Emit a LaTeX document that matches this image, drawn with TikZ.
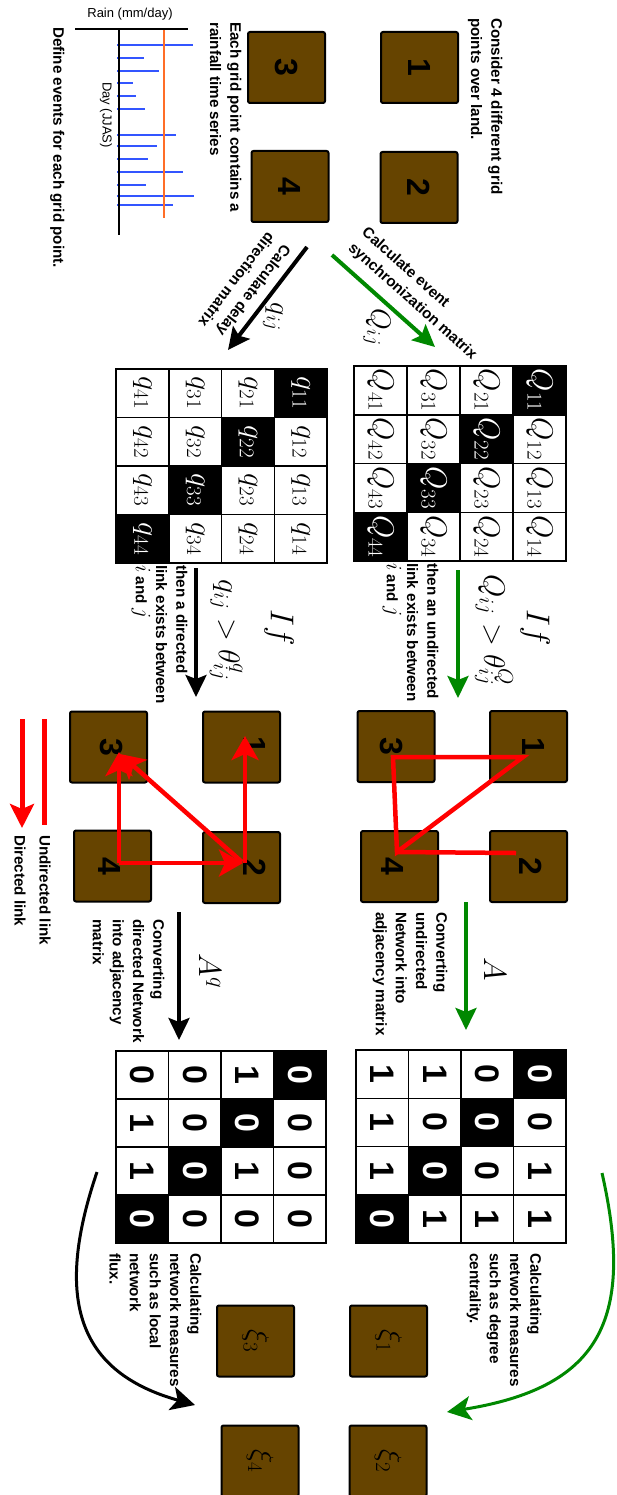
\RequirePackage{fix-cm}
\documentclass[tikz,border=0pt]{standalone}
\usepackage{fontspec}
\setmainfont{Liberation Sans}
\usetikzlibrary{arrows.meta}
\definecolor{boxbrown}{RGB}{102,68,0}
\definecolor{arrgreen}{RGB}{0,136,0}
\definecolor{barblue}{RGB}{51,85,255}
\definecolor{throrange}{RGB}{255,110,40}
\begin{document}
\begin{tikzpicture}[x=1pt,y=1pt,rotate=-90,transform shape,
  lbl/.style={font=\bfseries\fontsize{15.2}{20.2}\selectfont, align=left, inner sep=0pt},
  tl/.style={lbl, anchor=north west},
  smalltxt/.style={font=\fontsize{13}{15}\selectfont, inner sep=0pt},
  gbox/.style={draw=black, line width=2pt, fill=boxbrown, rounded corners=2pt, minimum width=71pt, minimum height=77pt, inner sep=0pt, font=\bfseries\fontsize{32}{32}\selectfont},
  boxdigit/.style={inner sep=0pt, font=\bfseries\fontsize{32}{32}\selectfont},
  xbox/.style={gbox, font=\fontsize{30}{30}\selectfont},
  wcell/.style={draw=black, line width=1.5pt, fill=white, inner sep=0pt, text=black},
  dcell/.style={wcell, fill=black, text=white},
  mth/.style={font=\fontsize{30}{30}\selectfont, inner sep=0pt},
  dig/.style={font=\bfseries\fontsize{34}{34}\selectfont},
  garrow/.style={draw=arrgreen, line width=4pt, -{Stealth[length=22pt,width=21pt,inset=4pt]}},
  barrow/.style={draw=black, line width=4pt, -{Stealth[length=22pt,width=21pt,inset=4pt]}},
  redline/.style={draw=red, line width=4.5pt},
  redarrow/.style={draw=red, line width=4.5pt, -{Stealth[length=24pt,width=27pt,inset=6pt]}},
  axisline/.style={draw=black, line width=2.5pt},
  bar/.style={draw=barblue, line width=2pt},
]
\useasboundingbox (0,0) rectangle (1495,616);

% ---------- stage 1 ----------
\node[gbox] (b1) at (67.5,419.5) {1};
\node[gbox] (b2) at (187.5,419) {2};
\node[gbox] (b3) at (67.5,286.5) {3};
\node[gbox] (b4) at (186.5,290) {4};
\node[tl] (t1) at (18,502.6) {Consider 4 different grid\\points over land.};
\node[tl] (t2) at (22,241.6) {Each grid point contains a\\rainfall time series};
\node[tl] (t3) at (27,64.6) {Define events for each grid point.};

% time series
\node[smalltxt, rotate=90] (rain) at (14,130) {Rain (mm/day)};
\node[smalltxt] (day) at (115,106) {Day (JJAS)};
\foreach \xx/\hh in {45/193,58/144,71/159,83/133,96/136,109/145,135/176,146/157,159/148,172/183,185/146,196/194,205/173}
  \draw[bar] (\xx,117) -- (\xx,\hh);
\draw[draw=throrange, line width=2pt] (29,164) -- (218,164);
\draw[axisline] (29,119) -- (235,119);
\draw[axisline] (29,75) -- (29,188);

% ---------- stage 2 arrows ----------
\coordinate (ga0) at (255,332); \coordinate (ga1) at (347,435);
\draw[garrow] (ga0) -- (ga1);
\coordinate (ba0) at (247,307); \coordinate (ba1) at (350,228);
\draw[barrow] (ba0) -- (ba1);
\node[lbl, rotate=48.2] (lg1) at (294,419) {Calculate event\\synchronization matrix};
\node[lbl, rotate=-37.5] (lb1) at (286,245) {Calculate delay\\direction matrix};
\node[mth, font=\fontsize{28}{28}\selectfont] (Qlab) at (327,377) {$Q_{ij}$};
\node[mth, font=\fontsize{28}{28}\selectfont] (qlab) at (317,273) {$q_{ij}$};

% ---------- matrices Q and q ----------
\foreach \i in {1,...,4}{\foreach \j in {1,...,4}{
  \ifnum\i=\j\def\cst{dcell}\else\def\cst{wcell}\fi
  \node[\cst, mth, minimum width=48.75pt, minimum height=53pt] (Q\i\j) at ({366+(\j-0.5)*48.75},{566-(\i-0.5)*53}) {$Q_{\i\j}$};
  \node[\cst, mth, minimum width=48.5pt, minimum height=52.75pt] (q\i\j) at ({369+(\j-0.5)*48.5},{327-(\i-0.5)*52.75}) {$q_{\i\j}$};
}}
\draw[line width=2.5pt] (366,354) rectangle (561,566);
\draw[line width=2.5pt] (369,116) rectangle (563,327);

% ---------- stage 3 arrows ----------
\coordinate (gb0) at (570,458); \coordinate (gb1) at (698,458);
\draw[garrow] (gb0) -- (gb1);
\coordinate (bb0) at (568,196); \coordinate (bb1) at (697,196);
\draw[barrow] (bb0) -- (bb1);
\node[mth, font=\fontsize{33}{33}\selectfont] (ifg) at (628,535) {$If$};
\node[mth] (ineqg) at (630,494) {$Q_{ij} > \theta^{Q}_{ij}$};
\node[mth, font=\fontsize{33}{33}\selectfont] (ifb) at (628,279) {$If$};
\node[mth] (ineqb) at (630,226) {$q_{ij} > \theta^{q}_{ij}$};
\node[tl] (tg3) at (563,438.6) {then an undirected\\link exists between\\{\fontsize{22}{20}\selectfont$i$} and {\fontsize{22}{20}\selectfont$j$}};
\node[tl] (tb3) at (565,187.6) {then a directed\\link exists between\\{\fontsize{22}{20}\selectfont$i$} and {\fontsize{22}{20}\selectfont$j$}};

% ---------- networks ----------
\node[gbox] (n1) at (746.5,528.5) {};
\node[gbox] (n3) at (746.5,396) {};
\node[gbox] (n2) at (866.5,528.5) {};
\node[gbox] (n4) at (866.5,399.5) {};
\node[boxdigit] (n1d) at (746,533) {1};
\node[boxdigit] (n3d) at (746,391) {3};
\node[boxdigit] (n2d) at (866,531) {2};
\node[boxdigit] (n4d) at (866,393) {4};
\coordinate (u1) at (757,523); \coordinate (u3) at (757,393);
\coordinate (u4) at (852,397); \coordinate (u2) at (853,516);
\draw[redline] (u1) -- (u3) -- (u4) -- cycle;
\draw[redline] (u4) -- (u2);

\node[gbox] (m1) at (747,241.5) {};
\node[gbox] (m3) at (747,108.5) {};
\node[gbox] (m2) at (867.5,241.5) {};
\node[gbox] (m4) at (866,112.5) {};
\node[boxdigit] (m1d) at (745,255) {1};
\node[boxdigit] (m3d) at (747,111.5) {3};
\node[boxdigit] (m2d) at (867,255) {2};
\node[boxdigit] (m4d) at (866,110) {4};
\coordinate (v1) at (736,245); \coordinate (v2) at (863,245);
\coordinate (v4) at (863,119); \coordinate (v2b) at (863,243);
\coordinate (v3) at (752,119); \coordinate (v2c) at (862,242);
\coordinate (v3b) at (754,120);
\draw[redarrow] (v2) -- (v1);
\draw[redarrow] (v4) -- (v2b);
\draw[redarrow] (v4) -- (v3);
\draw[redarrow] (v2c) -- (v3b);

% legend
\coordinate (la0) at (719,44); \coordinate (la1) at (825,44);
\draw[draw=red, line width=5pt] (la0) -- (la1);
\coordinate (lb0) at (719,22); \coordinate (lb1) at (828,22);
\draw[draw=red, line width=5pt, -{Stealth[length=24pt,width=24pt,inset=5pt]}] (lb0) -- (lb1);
\node[lbl, anchor=west] (leg1) at (835,45) {Undirected link};
\node[lbl, anchor=west] (leg2) at (835,20) {Directed link};

% ---------- stage 4 arrows ----------
\coordinate (gc0) at (902,466); \coordinate (gc1) at (1030,466);
\draw[garrow] (gc0) -- (gc1);
\coordinate (bc0) at (912,179); \coordinate (bc1) at (1040,179);
\draw[barrow] (bc0) -- (bc1);
\node[mth, font=\fontsize{32}{32}\selectfont] (Alab) at (969,495) {$A$};
\node[mth, font=\fontsize{32}{32}\selectfont] (Aqlab) at (971,210) {$A^q$};
\node[tl] (tg4) at (912,447.6) {Converting\\undirected\\Network into\\adjacency matrix};
\node[tl] (tb4) at (919,164.6) {Converting\\directed Network\\into adjacency\\matrix};

% ---------- adjacency matrices ----------
\foreach \i/\row in {1/{0,0,1,1},2/{0,0,0,1},3/{1,0,0,1},4/{1,1,1,0}}{
  \foreach \v [count=\j] in \row {
    \ifnum\i=\j\def\cst{dcell}\else\def\cst{wcell}\fi
    \node[\cst, dig, minimum width=48.25pt, minimum height=52.5pt] (A\i\j) at ({1050+(\j-0.5)*48.25},{566-(\i-0.5)*52.5}) {\v};
  }
}
\foreach \i/\row in {1/{0,0,0,0},2/{1,0,1,0},3/{0,0,0,0},4/{0,1,1,0}}{
  \foreach \v [count=\j] in \row {
    \ifnum\i=\j\def\cst{dcell}\else\def\cst{wcell}\fi
    \node[\cst, dig, minimum width=48pt, minimum height=52.5pt] (Aq\i\j) at ({1051+(\j-0.5)*48},{326-(\i-0.5)*52.5}) {\v};
  }
}
\draw[line width=2.5pt] (1050,356) rectangle (1243,566);
\draw[line width=2.5pt] (1051,116) rectangle (1243,326);

% ---------- stage 5 ----------
\node[tl] (tg5) at (1253,541.6) {Calculating\\network measures\\such as degree\\centrality.};
\node[tl] (tb5) at (1253,201.6) {Calculating\\network measures\\such as local\\network\\flux.};
\coordinate (gd0) at (1173,602); \coordinate (gd1) at (1412,447);
\draw[draw=arrgreen, line width=3pt, -{Stealth[length=24pt,width=24pt,inset=6pt]}] (gd0) .. controls (1323,636) and (1388,597) .. (gd1);
\coordinate (bd0) at (1172,97); \coordinate (bd1) at (1405,195);
\draw[draw=black, line width=3pt, -{Stealth[length=24pt,width=24pt,inset=6pt]}] (bd0) .. controls (1302,52.8) and (1372.6,79.8) .. (bd1);
\node[xbox] (x1) at (1341,388.5) {$\xi_1$};
\node[xbox] (x3) at (1341,255.5) {$\xi_3$};
\node[xbox] (x2) at (1461,388) {$\xi_2$};
\node[xbox] (x4) at (1461,260) {$\xi_4$};
\end{tikzpicture}
\end{document}
